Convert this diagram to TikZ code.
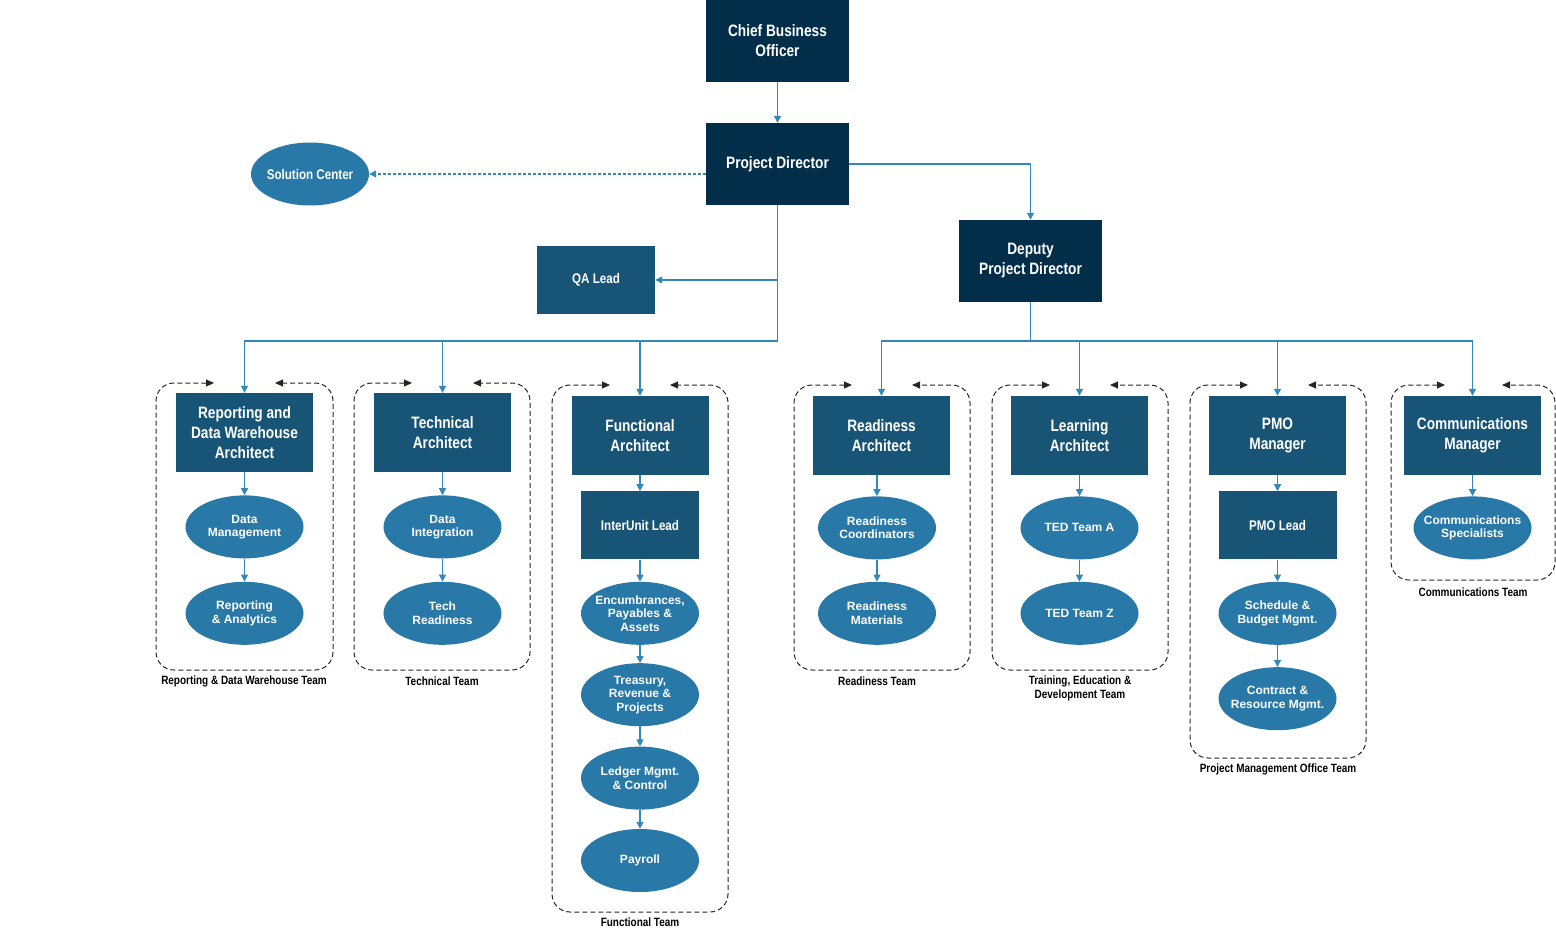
\documentclass[tikz,border=0pt]{standalone}
\usepackage{fontspec}
\setmainfont{Liberation Sans}
\newfontfamily\narrowfont[FakeStretch=0.83]{Liberation Sans}
\usepackage{xcolor}
\definecolor{colorTop}{HTML}{032E4A}
\definecolor{colorLead}{HTML}{175476}
\definecolor{colorUnit}{HTML}{2878A8}
\definecolor{colorLink}{HTML}{3388BB}
\usetikzlibrary{arrows.meta, positioning, shapes.geometric}
\tikzset{
  topbox/.style={rectangle, fill=colorTop, text=white, minimum width=143pt, minimum height=82pt, inner sep=0pt, align=center, font=\narrowfont\bfseries\fontsize{16.5}{20}\selectfont},
  leadbox/.style={rectangle, fill=colorLead, text=white, minimum width=137pt, minimum height=79pt, inner sep=0pt, align=center, font=\narrowfont\bfseries\fontsize{16.5}{20}\selectfont},
  subbox/.style={rectangle, fill=colorLead, text=white, minimum width=118pt, minimum height=68pt, inner sep=0pt, align=center, font=\narrowfont\bfseries\fontsize{14}{16}\selectfont},
  unit/.style={ellipse, fill=colorUnit, text=white, minimum width=118pt, minimum height=63pt, inner xsep=-10pt, inner ysep=0pt, align=center, font=\bfseries\fontsize{12}{13.5}\selectfont},
  teamlabel/.style={inner sep=0pt, align=center, font=\narrowfont\bfseries\fontsize{12}{14}\selectfont},
  link/.style={->, colorLink, line width=1.3pt},
  teamframe/.style={<->, black!85, line width=1pt, dash pattern=on 5pt off 3pt, rounded corners=18pt, >={Triangle[length=8pt, width=7pt]}}
}

\begin{document}
\begin{tikzpicture}[x=1pt, y=-1pt, >={Triangle[length=7pt, width=7pt]}]
\useasboundingbox (0,0) rectangle (1556,931);
% leadership
\node[topbox] (cbo) at (777.5,41) {Chief Business\\Officer};
\node[topbox] (pd) at (777.5,164) {Project Director};
\node[topbox] (dpd) at (1030.5,261) {Deputy\\Project Director};
\node[unit, font=\narrowfont\bfseries\fontsize{14}{16}\selectfont] (sc) at (310,174) {Solution Center};
\node[subbox] (qa) at (596,280) {QA Lead};
\coordinate (bus) at (0,341);
% architects
\node[leadbox] (rdwa) at (244.5,432.5) {Reporting and\\Data Warehouse\\Architect};
\node[leadbox] (tech) at (442.5,432.5) {Technical\\Architect};
\node[leadbox] (func) at (640,435.5) {Functional\\Architect};
\node[leadbox] (ready) at (881.5,435.5) {Readiness\\Architect};
\node[leadbox] (learn) at (1079.5,435.5) {Learning\\Architect};
\node[leadbox] (pmo) at (1277.5,435.5) {PMO\\Manager};
\node[leadbox] (comm) at (1472.5,435.5) {Communications\\Manager};
% teams
\node[unit, below=23pt of rdwa] (dm) {Data\\Management};
\node[unit, below=23pt of dm] (ra) {Reporting\\\& Analytics};
\node[unit, below=23pt of tech] (di) {Data\\Integration};
\node[unit, below=23pt of di] (tr) {Tech\\Readiness};
\node[subbox, below=16pt of func] (iul) {InterUnit Lead};
\node[unit, below=22pt of iul] (epa) {Encumbrances,\\Payables \&\\Assets};
\node[unit, below=18pt of epa] (trp) {Treasury,\\Revenue \&\\Projects};
\node[unit, below=20pt of trp] (lmc) {Ledger Mgmt.\\\& Control};
\node[unit, below=19pt of lmc] (pay) {Payroll};
\node[unit, below=21pt of ready, xshift=-4.5pt] (rc) {Readiness\\Coordinators};
\node[unit, below=22pt of rc] (rm) {Readiness\\Materials};
\node[unit, below=21pt of learn] (teda) {TED Team A};
\node[unit, below=22pt of teda] (tedz) {TED Team Z};
\node[subbox, below=16pt of pmo] (pmol) {PMO Lead};
\node[unit, below=22pt of pmol] (sbm) {Schedule \&\\Budget Mgmt.};
\node[unit, below=22pt of sbm] (crm) {Contract \&\\Resource Mgmt.};
\node[unit, below=21pt of comm] (cs) {Communications\\Specialists};
% team frames
\draw[teamframe] (214,383) -- (156,383) -- (156,670) -- (333,670) -- (333,383) -- (275,383);
\draw[teamframe] (412,383) -- (354,383) -- (354,670) -- (530,670) -- (530,383) -- (473,383);
\draw[teamframe] (610,385) -- (552,385) -- (552,912) -- (728,912) -- (728,385) -- (670,385);
\draw[teamframe] (852,385) -- (794,385) -- (794,670) -- (970,670) -- (970,385) -- (912,385);
\draw[teamframe] (1050,385) -- (992,385) -- (992,670) -- (1168,670) -- (1168,385) -- (1110,385);
\draw[teamframe] (1248,385) -- (1190,385) -- (1190,758) -- (1366,758) -- (1366,385) -- (1308,385);
\draw[teamframe] (1445,385) -- (1391,385) -- (1391,580) -- (1555,580) -- (1555,385) -- (1502,385);
\node[teamlabel] (rdwteam) at (244,681) {Reporting \& Data Warehouse Team};
\node[teamlabel] (techteam) at (442,681) {Technical Team};
\node[teamlabel] (functeam) at (640,922) {Functional Team};
\node[teamlabel] (readyteam) at (877,681) {Readiness Team};
\node[teamlabel] (learnteam) at (1080,688) {Training, Education \&\\Development Team};
\node[teamlabel] (pmoteam) at (1278,769) {Project Management Office Team};
\node[teamlabel] (commteam) at (1473,592) {Communications Team};
% reporting lines
\draw[link] (cbo) -- (pd);
\draw[link, dash pattern=on 3pt off 2pt] (pd.west |- sc) -- (sc.east);
\draw[link] (pd.east) -| (dpd.north);
\draw[link] (pd.south |- qa.east) -- (qa.east);
\draw[link] (pd.south) -- (pd.south |- bus) -| (rdwa.north);
\draw[link] (pd.south |- bus) -| (tech.north);
\draw[link] (pd.south |- bus) -| (func.north);
\draw[link] (dpd.south) -- (dpd.south |- bus) -| (ready.north);
\draw[link] (dpd.south |- bus) -| (learn.north);
\draw[link] (dpd.south |- bus) -| (pmo.north);
\draw[link] (dpd.south |- bus) -| (comm.north);
\draw[link] (rdwa) -- (dm);
\draw[link] (dm) -- (ra);
\draw[link] (tech) -- (di);
\draw[link] (di) -- (tr);
\draw[link] (func) -- (iul);
\draw[link] (iul) -- (epa);
\draw[link] (epa) -- (trp);
\draw[link] (trp) -- (lmc);
\draw[link] (lmc) -- (pay);
\draw[link] (rc.north |- ready.south) -- (rc);
\draw[link] (rc) -- (rm);
\draw[link] (learn) -- (teda);
\draw[link] (teda) -- (tedz);
\draw[link] (pmo) -- (pmol);
\draw[link] (pmol) -- (sbm);
\draw[link] (sbm) -- (crm);
\draw[link] (comm) -- (cs);
\end{tikzpicture}
\end{document}
